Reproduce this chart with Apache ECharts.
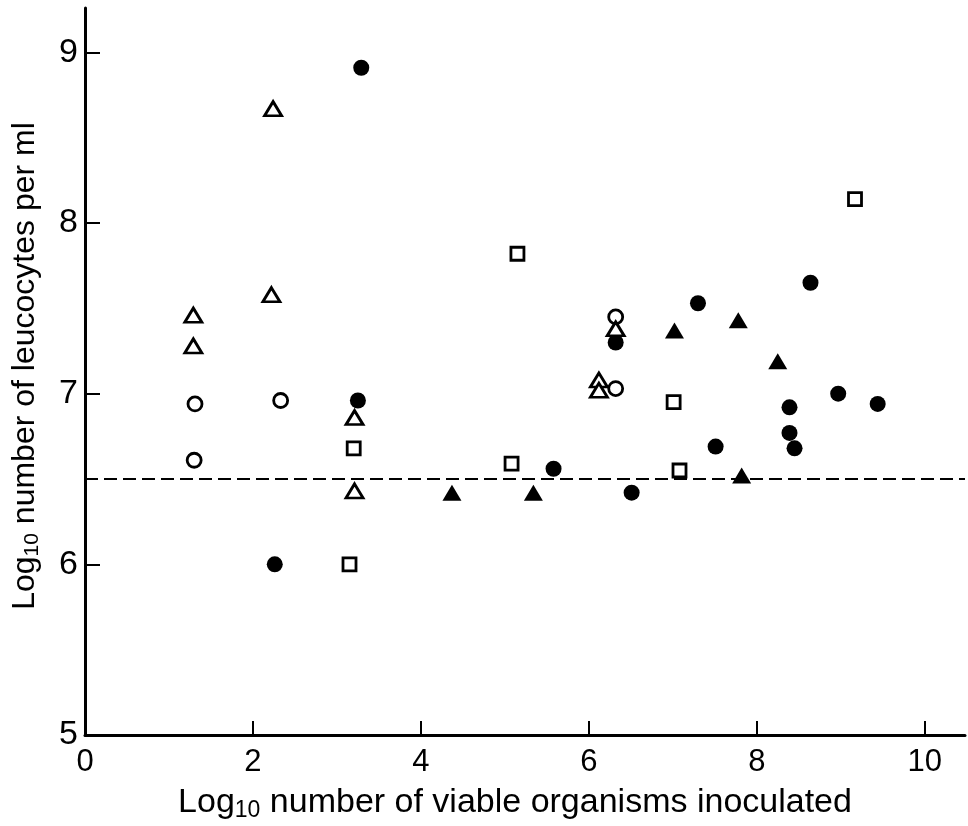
<!DOCTYPE html>
<html>
<head>
<meta charset="utf-8">
<script src="https://cdn.jsdelivr.net/npm/echarts@6/dist/echarts.min.js"></script>
<style>
html,body{margin:0;padding:0;background:#fff;}
#chart{width:968px;height:826px;}
</style>
</head>
<body>
<div id="chart"></div>
<script>
// ---- data ----
const xTicks = [0, 2, 4, 6, 8, 10];
const yTicks = [5, 6, 7, 8, 9];
const baselineY = 6.5;

const filledCircles = [[3.29,8.91],[3.25,6.96],[2.26,6.00],[6.32,7.30],[7.30,7.53],[5.58,6.56],[6.51,6.42],[7.51,6.69],[8.64,7.65],[8.97,7.00],[9.44,6.94],[8.39,6.92],[8.39,6.77],[8.45,6.68]];
const openCircles = [[1.31,6.94],[1.30,6.61],[2.33,6.96],[6.32,7.45],[6.32,7.03]];
const openTriangles = [[1.29,7.46],[1.29,7.28],[2.24,8.67],[2.22,7.58],[3.21,6.86],[3.21,6.43],[6.12,7.08],[6.12,7.02],[6.32,7.38]];
const filledTriangles = [[4.37,6.42],[5.34,6.42],[7.02,7.37],[7.78,7.43],[8.25,7.19],[7.82,6.52]];
const openSquares = [[3.15,6.00],[3.20,6.68],[5.08,6.59],[5.15,7.82],[7.01,6.95],[7.08,6.55],[9.17,8.14]];

const xMin = 0, xMax = 10.48, yMin = 5, yMax = 9.26;

const sans = "'Liberation Sans',Arial,Helvetica,sans-serif";

const chart = echarts.init(document.getElementById('chart'), null, {renderer:'canvas'});

function sym(data, symbol, size, filled) {
  return {
    type: 'scatter',
    data: data,
    symbol: symbol,
    symbolSize: size,
    z: 5,
    itemStyle: filled ? {color:'#000', borderWidth:0, opacity:1} : {color:'#fff', borderColor:'#000', borderWidth:2.8, opacity:1},
    emphasis: {disabled:true}
  };
}

chart.setOption({
  animation: false,
  backgroundColor: '#fff',
  grid: {left: 85, right: 3, top: 8, bottom: 91},
  xAxis: {
    type: 'value', min: xMin, max: xMax,
    splitLine: {show:false},
    axisLine: {show:true, onZero:false, lineStyle:{color:'#000', width:3}},
    axisTick: {show:true, inside:true, length:14, customValues: xTicks, lineStyle:{color:'#000', width:2}},
    axisLabel: {customValues: xTicks, color:'#000', fontFamily: sans, fontSize: 31, margin: 12},
  },
  yAxis: {
    type: 'value', min: yMin, max: yMax,
    splitLine: {show:false},
    axisLine: {show:true, onZero:false, lineStyle:{color:'#000', width:3}},
    axisTick: {show:true, inside:true, length:15, customValues: yTicks, lineStyle:{color:'#000', width:2}},
    axisLabel: {customValues: yTicks, color:'#000', fontFamily: sans, fontSize: 34, margin: 7},
  },
  graphic: [
    {
      type: 'text', x: 25, y: 366, rotation: Math.PI/2,
      style: {
        text: '{a|Log}{s|10}{a| number of leucocytes per ml}',
        align: 'center', verticalAlign: 'middle',
        rich: {
          a: {fontFamily: sans, fontSize: 32, fill:'#000'},
          s: {fontFamily: sans, fontSize: 21, fill:'#000', padding:[14,0,0,0]}
        }
      }
    },
    {
      type: 'text', x: 515, y: 803,
      style: {
        text: '{a|Log}{s|10}{a| number of viable organisms inoculated}',
        align: 'center', verticalAlign: 'middle',
        rich: {
          a: {fontFamily: sans, fontSize: 34, fill:'#000'},
          s: {fontFamily: sans, fontSize: 23, fill:'#000', padding:[15,0,0,0]}
        }
      }
    }
  ],
  series: [
    {
      type: 'line',
      data: [[xMin, baselineY], [xMax, baselineY]],
      symbol: 'none',
      z: 2,
      lineStyle: {color:'#000', width:2.2, type:[13,6]},
      emphasis: {disabled:true}
    },
    sym(filledCircles, 'circle', 16, true),
    sym(openCircles, 'circle', 14, false),
    sym(openTriangles, 'triangle', [17,14], false),
    sym(filledTriangles, 'triangle', [19,16], true),
    sym(openSquares, 'rect', 13, false)
  ]
});
</script>
</body>
</html>
